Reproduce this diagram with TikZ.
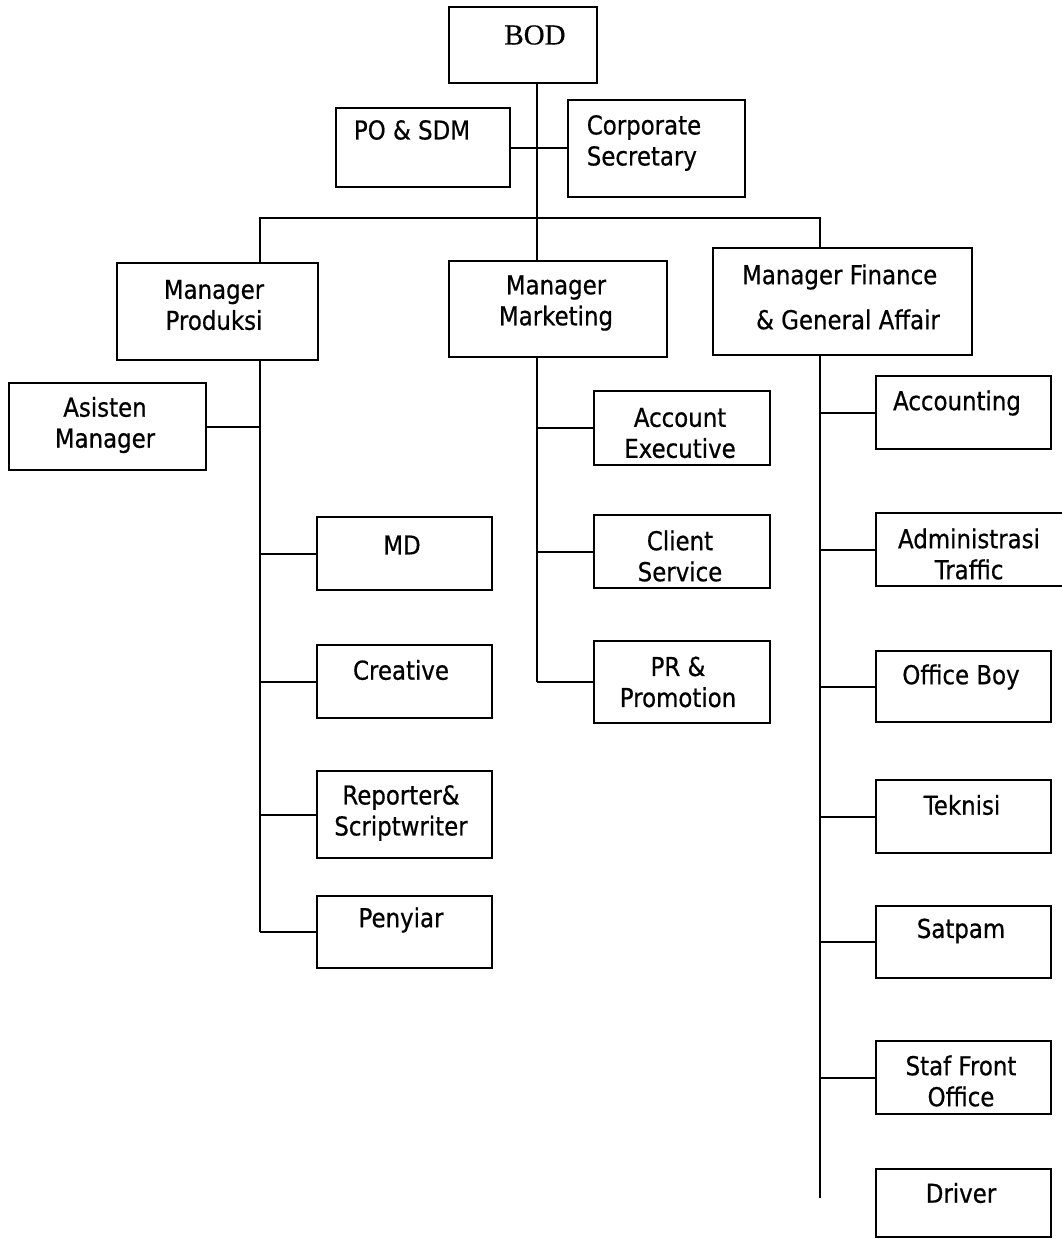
\documentclass[tikz,border=0pt]{standalone}
\usepackage{fontspec}
\setmainfont{DejaVu Sans}[FakeStretch=0.88, FakeBold=0.6]
\newfontfamily\bodfont{Liberation Serif}[FakeBold=0.4]
\usetikzlibrary{calc}

\tikzset{
  box/.style={
    draw,
    line width=2pt,
    inner sep=0pt,
  },
  unit text/.style={
    font=\fontsize{26}{31}\selectfont,
    align=center,
    inner sep=0pt,
  },
  link/.style={
    line width=2pt,
  },
}

\newcommand\orgbox[5]{%
  \node[box, minimum width={(#4-#2)*1pt}, minimum height={(#5-#3)*1pt}]
    (#1) at ({(#2+#4)/2},{(#3+#5)/2}) {};%
}

\begin{document}
\begin{tikzpicture}[x=1pt, y=-1pt]

  \fill[white] (0,0) rectangle (1062,1239);
  \useasboundingbox (0,0) rectangle (1062,1239);

  % boxes: name / left / top / right / bottom
  \foreach \n/\a/\b/\c/\d in {
      bod/449/7/597/83, posdm/336/108/510/187, corpsec/568/100/745/197,
      mprod/117/263/318/360, mmkt/449/261/667/357, mfin/713/248/972/355,
      asman/9/383/206/470,
      md/317/517/492/590, creative/317/645/492/718,
      reporter/317/771/492/858, penyiar/317/896/492/968,
      ae/594/391/770/465, cs/594/515/770/588, pr/594/641/770/723,
      acc/876/376/1051/449, adm/876/513/1075/586, ob/876/651/1051/722,
      tek/876/780/1051/853, satpam/876/906/1051/978,
      sfo/876/1041/1051/1114, driver/876/1169/1051/1237} {
    \orgbox{\n}{\a}{\b}{\c}{\d}
  };

  % texts
  \node[unit text] (bod-t) at (535,35) {\bodfont\fontsize{29}{34}\selectfont BOD};
  \node[unit text] (posdm-t) at (412,130) {PO \& SDM};
  \node[unit text, align=left] (corpsec-t) at (644,143) {Corporate\\Secretary};
  \node[unit text, align=left] (mfin-t) at (841,297)
    {Manager Finance\\[14pt]\hspace*{14pt}\& General Affair};

  \foreach \n/\x/\y/\t in {
      mprod/214/305/{Manager\\Produksi}, mmkt/556/303/{Manager\\Marketing},
      asman/105/425/{Asisten\\Manager},
      md/402/545/{MD}, creative/401/670/{Creative},
      reporter/401/813/{Reporter\&\\Scriptwriter}, penyiar/401/920/{Penyiar},
      ae/680/433/{Account\\Executive}, cs/680/556/{Client\\Service},
      pr/678/682/{PR \&\\Promotion},
      acc/957/403/{Accounting}, adm/969/554/{Administrasi\\Traffic},
      ob/961/677/{Office Boy}, tek/962/805/{Teknisi}, satpam/961/931/{Satpam},
      sfo/961/1081/{Staf Front\\Office}, driver/961/1193/{Driver}} {
    \node[unit text] (\n-t) at (\x,\y) {\t};
  };

  % trunk lines
  \coordinate (prodx) at (260,0);
  \coordinate (mktx) at (537,0);
  \coordinate (finx) at (820,0);
  \coordinate (bar) at (0,218);
  \coordinate (finend) at (820,1198);

  \draw[link] (bod.south -| mktx) -- (mktx |- mmkt.north);
  \draw[link] (posdm.east) -- (posdm.east -| corpsec.west);
  \draw[link] (prodx |- mprod.north) -- (prodx |- bar) -- (finx |- bar) -- (finx |- mfin.north);

  \draw[link] (prodx |- mprod.south) -- (prodx |- penyiar.west);
  \draw[link] (asman.east) -- (prodx |- asman.east);
  \draw[link] foreach \n in {md,creative,reporter,penyiar} { (prodx |- \n.west) -- (\n.west) };

  \draw[link] (mktx |- mmkt.south) -- (mktx |- pr.west);
  \draw[link] foreach \n in {ae,cs,pr} { (mktx |- \n.west) -- (\n.west) };

  \draw[link] (finx |- mfin.south) -- (finend);
  \draw[link] foreach \n in {acc,adm,ob,tek,satpam,sfo} { (finx |- \n.west) -- (\n.west) };

\end{tikzpicture}
\end{document}
